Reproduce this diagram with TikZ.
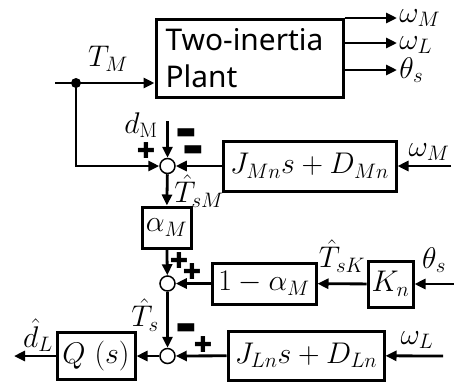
\RequirePackage{fix-cm}
\documentclass[tikz,border=0pt]{standalone}
\usepackage{fontspec}
\usetikzlibrary{arrows.meta}
\newfontfamily\plantfont{Noto Sans}
\newfontfamily\signfont{DejaVu Sans}

\begin{document}
\begin{tikzpicture}[x=1bp, y=-1bp, line width=2.8bp,
  every node/.style={font=\fontsize{30}{34}\selectfont, inner sep=0pt},
  blk/.style={draw, line width=3bp},
  sumc/.style={draw, circle, line width=1.5bp, fill=white, minimum size=15bp},
  sgn/.style={font=\signfont\fontsize{22}{22}\selectfont},
  sig/.style={-{Triangle[length=11bp,width=10bp]}}]
  \useasboundingbox (0,0) rectangle (454,385);

  % plant and its outputs
  \node[blk, minimum width=187bp, minimum height=78bp, text width=168bp, align=left,
        font=\plantfont\fontsize{30}{37}\selectfont] (plant) at (249.5,58)
        {Two-inertia\\Plant};
  \coordinate (oM) at (397,18);
  \coordinate (oL) at (397,43);
  \coordinate (oS) at (397,70);
  \draw[sig] (plant.east |- oM) -- (oM);
  \draw[sig] (plant.east |- oL) -- (oL);
  \draw[sig] (plant.east |- oS) -- (oS);
  \node[anchor=west] (woM) at (398,18) {$\omega_M$};
  \node[anchor=west] (woL) at (398,45) {$\omega_L$};
  \node[anchor=west] (thO) at (398,70) {$\theta_s$};

  % torque input and tap
  \coordinate (tin) at (55,83);
  \fill (76,83) circle (5bp) coordinate (tap);
  \node (tm) at (108,59) {$T_M$};
  \draw (tin) -- (tap);
  \draw[sig] (tap) -- (tap -| plant.west);

  % first sum
  \node[sumc] (s1) at (167.5,166) {};
  \node[blk, minimum width=173bp, minimum height=50bp] (jm) at (309.5,166) {$J_{Mn}s+D_{Mn}$};
  \coordinate (wMin) at (451,166);
  \node (wMl) at (429,152) {$\omega_M$};
  \coordinate (dtop) at (167.5,121);
  \node (dm) at (141,125) {$d_{\mathrm{M}}$};
  \draw[sig] (tap) |- (s1);
  \draw[sig] (dtop) -- (s1);
  \draw[sig] (jm) -- (s1);
  \draw[sig] (wMin) -- (jm);
  \node[sgn] (m1) at (186,134) {▬};
  \node[sgn] (m2) at (193,151) {▬};
  \node[sgn] (p1) at (146,151) {✚};

  % alpha_M branch
  \node[blk, minimum width=49bp, minimum height=41bp] (al) at (166.5,227.5) {$\alpha_M$};
  \node (tsm) at (199,191) {$\hat{T}_{sM}$};
  \draw[sig] (s1) -- (al);

  % second sum
  \node[sumc] (s2) at (167.5,283.5) {};
  \node[blk, minimum width=104bp, minimum height=41bp] (om) at (264,283.5) {$1-\alpha_M$};
  \node[blk, minimum width=45bp, minimum height=46bp] (kn) at (390.5,284) {$K_n$};
  \coordinate (thin) at (454,284);
  \node (thl) at (434,260) {$\theta_s$};
  \node (tsk) at (342,256) {$\hat{T}_{sK}$};
  \draw[sig] (al) -- (s2);
  \draw[sig] (om) -- (s2);
  \draw[sig] (kn) -- (om);
  \draw[sig] (thin) -- (kn);
  \node[sgn] (p2) at (179,261) {✚};
  \node[sgn] (p3) at (192,271) {✚};

  % third sum and Q(s)
  \node[sumc] (s3) at (167.5,356) {};
  \node[blk, minimum width=156bp, minimum height=49bp] (jl) at (306,355.5) {$J_{Ln}s+D_{Ln}$};
  \node[blk, minimum width=78bp, minimum height=47bp] (q) at (96,356) {$Q\ (s)$};
  \coordinate (wLin) at (443,356);
  \coordinate (dout) at (14,356);
  \node (wLl) at (417,340) {$\omega_L$};
  \node (ts) at (145,315) {$\hat{T}_s$};
  \node (dl) at (38,335) {$\hat{d}_L$};
  \draw[sig] (s2) -- (s3);
  \draw[sig] (jl) -- (s3);
  \draw[sig] (wLin) -- (jl);
  \draw[sig] (s3) -- (q);
  \draw[sig] (q) -- (dout);
  \node[sgn] (m3) at (186,329) {▬};
  \node[sgn] (p4) at (203,344) {✚};
\end{tikzpicture}
\end{document}
